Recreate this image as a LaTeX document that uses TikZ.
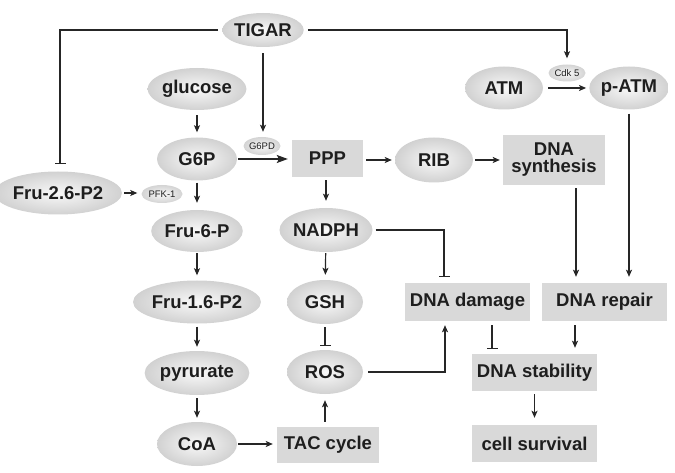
\documentclass[tikz,border=0pt]{standalone}
\usepackage{fontspec}
\setmainfont{Liberation Sans}
\usetikzlibrary{arrows.meta}
\definecolor{ln}{HTML}{262626}
\definecolor{boxfill}{HTML}{D9D9D9}
\definecolor{tx}{HTML}{1E1E1E}
\tikzset{
  ell/.style={ellipse, shading=radial, inner color=gray!5, outer color=gray!36, inner sep=0pt,
    font=\fontsize{18.5}{17}\selectfont\bfseries, text=tx},
  sml/.style={ellipse, shading=radial, inner color=gray!5, outer color=gray!34, inner sep=0pt,
    font=\fontsize{9.5}{9.5}\selectfont, text=tx},
  bx/.style={rectangle, fill=boxfill, inner sep=0pt, align=center,
    font=\fontsize{18.5}{17}\selectfont\bfseries, text=tx},
  con/.style={draw=ln, line width=1.2pt},
  arr/.style={con, -{Stealth[length=7pt,width=6pt,inset=1.5pt]}},
  bigarr/.style={con, -{Stealth[length=11pt,width=8pt,inset=2pt]}},
  inh/.style={con, -{Bar[width=11pt,line width=1.2pt]}},
}
\usetikzlibrary{shapes.geometric}
\begin{document}
\begin{tikzpicture}[x=1pt,y=-1pt]
\useasboundingbox (0,0) rectangle (675,473);
% ellipses
\node[ell, minimum width=78pt, minimum height=34pt] (TIGAR) at (263,30) {TIGAR};
\node[ell, minimum width=86pt, minimum height=42pt] (glucose) at (197,89) {glucose};
\node[ell, minimum width=80pt, minimum height=43pt] (G6P) at (197,159) {G6P};
\node[ell, minimum width=79pt, minimum height=42pt] (Fru6P) at (197,231) {Fru-6-P};
\node[ell, minimum width=106pt, minimum height=43pt] (Fru16) at (197,302) {Fru-1.6-P2};
\node[ell, minimum width=92pt, minimum height=44pt] (pyr) at (197,373) {pyrurate};
\node[ell, minimum width=80pt, minimum height=44pt] (CoA) at (197,444) {CoA};
\node[ell, minimum width=106pt, minimum height=43pt] (Fru26) at (58,193) {Fru-2.6-P2};
\node[ell, minimum width=78pt, minimum height=44pt] (NADPH) at (326,230) {NADPH};
\node[ell, minimum width=76pt, minimum height=44pt] (GSH) at (325,302) {GSH};
\node[ell, minimum width=76pt, minimum height=44pt] (ROS) at (325,372) {ROS};
\node[ell, minimum width=78pt, minimum height=45pt] (RIB) at (434,160) {RIB};
\node[ell, minimum width=78pt, minimum height=43pt] (ATM) at (504,88) {ATM};
\node[ell, minimum width=78pt, minimum height=43pt] (pATM) at (629,88) {p-ATM};
% small ellipses
\node[sml, minimum width=37pt, minimum height=18pt] (G6PD) at (262,146) {G6PD};
\node[sml, minimum width=41pt, minimum height=18pt] (PFK) at (162,194) {PFK-1};
\node[sml, minimum width=37pt, minimum height=17pt] (Cdk) at (567,73) {Cdk 5};
% boxes
\node[bx, minimum width=71pt, minimum height=37pt] (PPP) at (327.5,158.5) {PPP};
\node[bx, minimum width=102pt, minimum height=50pt] (DNAsyn) at (554,160) {DNA\\synthesis};
\node[bx, minimum width=125pt, minimum height=38pt] (DNAdam) at (467.5,302) {DNA damage};
\node[bx, minimum width=125pt, minimum height=38pt] (DNArep) at (604.5,302) {DNA repair};
\node[bx, minimum width=125pt, minimum height=37pt] (DNAstab) at (534.5,372.5) {DNA stability};
\node[bx, minimum width=125pt, minimum height=37pt] (cell) at (534.5,443.5) {cell survival};
\node[bx, minimum width=102pt, minimum height=36pt] (TAC) at (328,445) {TAC cycle};
% connectors
\draw[inh, shorten <=4pt, shorten >=7pt] (TIGAR.west) -| ([xshift=2pt]Fru26.north);
\draw[arr, shorten <=4pt, shorten >=6pt] (TIGAR.east) -| (Cdk.north);
\draw[arr, shorten <=6pt, shorten >=5pt] (TIGAR.south) -- (TIGAR.south |- G6PD.north);
\draw[arr, shorten <=5pt, shorten >=5pt] (glucose) -- (G6P);
\draw[bigarr, shorten <=1pt, shorten >=4pt] (G6P.east) -- (G6P.east -| PPP.west);
\draw[arr, shorten <=2pt, shorten >=4pt] (Fru26.east) -- (Fru26.east -| PFK.west);
\draw[arr, shorten <=2pt, shorten >=7pt] (G6P) -- (Fru6P);
\draw[arr, shorten <=1pt, shorten >=5pt] (Fru6P) -- (Fru16);
\draw[arr, shorten <=3pt, shorten >=4pt] (Fru16) -- (pyr);
\draw[arr, shorten <=3pt, shorten >=4pt] (pyr) -- (CoA);
\draw[arr, shorten <=1pt, shorten >=4pt] (CoA.east) -- (CoA.east -| TAC.west);
\draw[arr, shorten <=5pt, shorten >=6pt] (ROS.south |- TAC.north) -- (ROS.south);
\draw[inh, shorten <=3pt, shorten >=4pt] (GSH) -- (ROS);
\draw[arr, shorten <=1pt, shorten >=5pt] (NADPH) -- (GSH);
\draw[arr, shorten <=3pt, shorten >=7pt] (NADPH.north |- PPP.south) -- (NADPH.north);
\draw[arr, shorten <=3pt, shorten >=3pt] (PPP.east |- RIB.west) -- (RIB.west);
\draw[arr, shorten <=2pt, shorten >=3pt] (RIB.east) -- (RIB.east -| DNAsyn.west);
\draw[arr, shorten <=5pt, shorten >=3pt] (ATM.east) -- (pATM.west);
\draw[arr, shorten <=5pt, shorten >=4pt] (ROS.east) -| ([xshift=-22.5pt]DNAdam.south);
\draw[inh, shorten <=3pt, shorten >=6pt] (NADPH.east) -| ([xshift=-23.5pt]DNAdam.north);
\draw[arr, shorten <=3pt, shorten >=6pt] ([xshift=22pt]DNAsyn.south) -- ([xshift=22pt]DNAsyn.south |- DNArep.north);
\draw[arr, shorten <=4pt, shorten >=6pt] (pATM.south) -- (pATM.south |- DNArep.north);
\draw[inh, shorten <=4pt, shorten >=5pt] ([xshift=24.5pt]DNAdam.south) -- ([xshift=24.5pt]DNAdam.south |- DNAstab.north);
\draw[arr, shorten <=4pt, shorten >=6pt] ([xshift=-29.5pt]DNArep.south) -- ([xshift=-29.5pt]DNArep.south |- DNAstab.north);
\draw[arr, shorten <=3pt, shorten >=7pt] (DNAstab) -- (cell);
\end{tikzpicture}
\end{document}
